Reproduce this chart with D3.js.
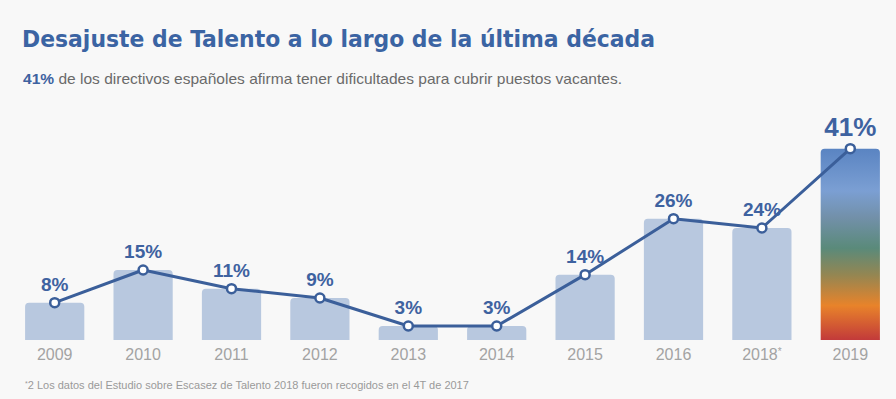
<!DOCTYPE html>
<html>
<head>
<meta charset="utf-8">
<script src="https://cdn.jsdelivr.net/npm/d3@7"></script>
<style>
  body { margin: 0; background: #f8f8f8; }
  svg { display: block; font-family: "Liberation Sans", Arial, sans-serif; }
  .title { font-family: "DejaVu Sans Condensed", "DejaVu Sans", sans-serif; font-weight: bold; fill: #3b64a3; }
  .year { fill: #a3a3a3; font-size: 16px; }
  .value { fill: #3e62a0; font-weight: bold; text-anchor: middle; }
</style>
</head>
<body>
<svg width="896" height="399"></svg>
<script>
// chart data
const years = ["2009", "2010", "2011", "2012", "2013", "2014", "2015", "2016", "2018*", "2019"];
const values = [8, 15, 11, 9, 3, 3, 14, 26, 24, 41];
const valueLabels = ["8%", "15%", "11%", "9%", "3%", "3%", "14%", "26%", "24%", "41%"];

const svg = d3.select("svg");
const width = +svg.attr("width");
const height = +svg.attr("height");

const data = years.map((y, i) => ({ year: y, value: values[i], label: valueLabels[i] }));

// gradient for the last (highlighted) bar
const grad = svg.append("defs").append("linearGradient")
  .attr("id", "hot").attr("x1", 0).attr("y1", 0).attr("x2", 0).attr("y2", 1);
[
  [0, "#5a84c2"], [0.22, "#7b9fd3"], [0.36, "#7290a9"], [0.52, "#5a8a7a"],
  [0.66, "#948652"], [0.82, "#e8832a"], [1, "#c23a3a"]
].forEach(([o, c]) => grad.append("stop").attr("offset", o).attr("stop-color", c));

// scales
const xScale = d3.scaleBand()
  .domain(years)
  .range([10.5, 894.5])
  .paddingInner(0.33)
  .paddingOuter(0.165);

const yScale = d3.scaleLinear()
  .domain([0, 45])
  .range([340, 130]);

const cx = (d) => xScale(d.year) + xScale.bandwidth() / 2;

// title + subtitle
svg.append("text")
  .attr("class", "title")
  .attr("x", 22)
  .attr("y", 47)
  .attr("font-size", 23)
  .attr("textLength", 633)
  .attr("lengthAdjust", "spacingAndGlyphs")
  .text("Desajuste de Talento a lo largo de la última década");

const sub = svg.append("text")
  .attr("x", 23)
  .attr("y", 84)
  .attr("font-size", 15)
  .attr("fill", "#6a6a6a")
  .attr("textLength", 599)
  .attr("lengthAdjust", "spacingAndGlyphs");
sub.append("tspan").attr("fill", "#3e62a0").attr("font-weight", "bold").text("41%");
sub.append("tspan").text(" de los directivos españoles afirma tener dificultades para cubrir puestos vacantes.");

// bars with rounded top corners
const r = 4;
const barPath = (d) => {
  const x0 = xScale(d.year), x1 = x0 + xScale.bandwidth();
  const y0 = yScale(d.value), yb = yScale(0);
  return `M${x0},${yb}V${y0 + r}Q${x0},${y0} ${x0 + r},${y0}H${x1 - r}Q${x1},${y0} ${x1},${y0 + r}V${yb}Z`;
};

svg.append("g")
  .selectAll("path")
  .data(data)
  .join("path")
  .attr("d", barPath)
  .attr("fill", (d, i) => (i === data.length - 1 ? "url(#hot)" : "#b8c8df"));

// year labels under the bars (asterisk raised as a superscript)
const yearText = svg.append("g")
  .selectAll("text")
  .data(data)
  .join("text")
  .attr("class", "year")
  .attr("x", cx)
  .attr("y", 360)
  .attr("text-anchor", "middle");
yearText.append("tspan").text((d) => d.year.replace("*", ""));
yearText.filter((d) => d.year.endsWith("*"))
  .append("tspan")
  .attr("font-size", 10)
  .attr("dy", -5)
  .text("*");

// line through bar tops
const line = d3.line().x(cx).y((d) => yScale(d.value));
svg.append("path")
  .datum(data)
  .attr("d", line)
  .attr("fill", "none")
  .attr("stroke", "#3b5f9a")
  .attr("stroke-width", 3)
  .attr("stroke-linejoin", "round");

svg.append("g")
  .selectAll("circle")
  .data(data)
  .join("circle")
  .attr("cx", cx)
  .attr("cy", (d) => yScale(d.value))
  .attr("r", 4.5)
  .attr("fill", "#fff")
  .attr("stroke", "#3b5f9a")
  .attr("stroke-width", 2.5);

// value labels
svg.append("g")
  .selectAll("text")
  .data(data)
  .join("text")
  .attr("class", "value")
  .attr("x", cx)
  .attr("y", (d, i) => yScale(d.value) - (i === data.length - 1 ? 13 : 12))
  .attr("font-size", (d, i) => (i === data.length - 1 ? 26 : 19))
  .text((d) => d.label);

// footnote
const note = svg.append("text").attr("x", 25).attr("y", 389).attr("font-size", 11).attr("fill", "#9a9a9a");
note.append("tspan").attr("font-size", 7).attr("dy", -3).text("*");
note.append("tspan").attr("dy", 3).text("2 Los datos del Estudio sobre Escasez de Talento 2018 fueron recogidos en el 4T de 2017");
</script>
</body>
</html>
